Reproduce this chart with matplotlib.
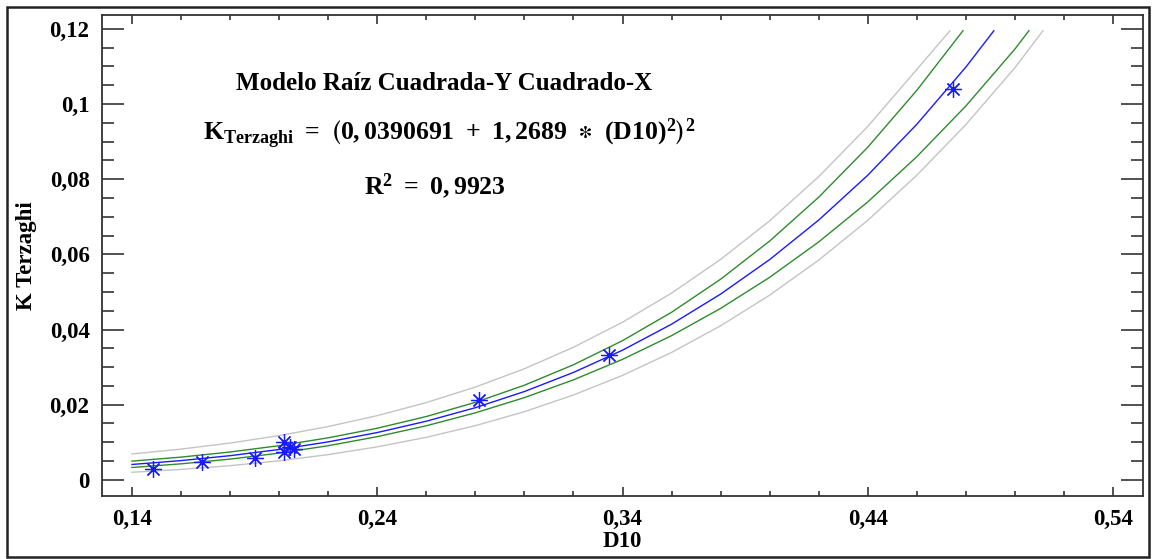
import numpy as np
import matplotlib
matplotlib.use('Agg')
import matplotlib.pyplot as plt
from matplotlib.ticker import FixedLocator, MultipleLocator
from matplotlib.patches import Rectangle

plt.rcParams['font.family'] = ['Liberation Serif', 'DejaVu Serif']
plt.rcParams['font.weight'] = 'bold'
plt.rcParams['mathtext.fontset'] = 'custom'
plt.rcParams['mathtext.rm'] = 'Liberation Serif:bold'
plt.rcParams['mathtext.it'] = 'Liberation Serif:bold'
plt.rcParams['mathtext.bf'] = 'Liberation Serif:bold'
plt.rcParams['mathtext.fallback'] = 'stix'

# observed points
d10_obs = [0.1487, 0.1684, 0.1901, 0.2021, 0.2021, 0.2044, 0.2060, 0.2815, 0.3345, 0.4747]
k_obs = [0.0029, 0.0047, 0.0059, 0.0102, 0.0075, 0.0087, 0.0082, 0.0213, 0.0331, 0.1040]

# fitted model curve
x_fit = [0.14, 0.16, 0.18, 0.20, 0.22, 0.24, 0.26, 0.28, 0.30, 0.32, 0.34, 0.36,
         0.38, 0.40, 0.42, 0.44, 0.46, 0.48, 0.4914]
y_fit = [0.00409, 0.00512, 0.00643, 0.00807, 0.01010, 0.01259, 0.01560, 0.01920,
         0.02350, 0.02858, 0.03450, 0.04142, 0.04943, 0.05862, 0.06913, 0.08107,
         0.09462, 0.10984, 0.1195]

# confidence limits (green)
x_conf_hi = [0.14, 0.16, 0.18, 0.20, 0.22, 0.24, 0.26, 0.28, 0.30, 0.32, 0.34, 0.36,
             0.38, 0.40, 0.42, 0.44, 0.46, 0.4788]
y_conf_hi = [0.00498, 0.00605, 0.00741, 0.00909, 0.01118, 0.01373, 0.01685, 0.02063,
             0.02518, 0.03062, 0.03703, 0.04459, 0.05339, 0.06355, 0.07521, 0.08852,
             0.10365, 0.1195]
x_conf_lo = [0.14, 0.16, 0.18, 0.20, 0.22, 0.24, 0.26, 0.28, 0.30, 0.32, 0.34, 0.36,
             0.38, 0.40, 0.42, 0.44, 0.46, 0.48, 0.50, 0.5057]
y_conf_lo = [0.00329, 0.00426, 0.00552, 0.00711, 0.00908, 0.01149, 0.01439, 0.01783,
             0.02188, 0.02661, 0.03206, 0.03837, 0.04562, 0.05389, 0.06331, 0.07395,
             0.08600, 0.09949, 0.11464, 0.1195]

# prediction limits (gray)
x_pred_hi = [0.14, 0.16, 0.18, 0.20, 0.22, 0.24, 0.26, 0.28, 0.30, 0.32, 0.34, 0.36,
             0.38, 0.40, 0.42, 0.44, 0.46, 0.4735]
y_pred_hi = [0.00688, 0.00818, 0.00979, 0.01177, 0.01418, 0.01708, 0.02056, 0.02468,
             0.02956, 0.03528, 0.04194, 0.04969, 0.05865, 0.06893, 0.08069, 0.09404,
             0.10922, 0.1195]
x_pred_lo = [0.14, 0.16, 0.18, 0.20, 0.22, 0.24, 0.26, 0.28, 0.30, 0.32, 0.34, 0.36,
             0.38, 0.40, 0.42, 0.44, 0.46, 0.48, 0.50, 0.5114]
y_pred_lo = [0.00202, 0.00277, 0.00377, 0.00507, 0.00671, 0.00878, 0.01132, 0.01441,
             0.01814, 0.02258, 0.02779, 0.03390, 0.04100, 0.04915, 0.05847, 0.06906,
             0.08106, 0.09453, 0.10967, 0.1195]

x_ticks = [0.14, 0.24, 0.34, 0.44, 0.54]
x_labels = ['0,14', '0,24', '0,34', '0,44', '0,54']
y_ticks = [0, 0.02, 0.04, 0.06, 0.08, 0.1, 0.12]
y_labels = ['0', '0,02', '0,04', '0,06', '0,08', '0,1', '0,12']

fig = plt.figure(figsize=(11.53, 5.59), dpi=100)
ax = fig.add_axes([0.0885, 0.1127, 0.9028, 0.8605])

ax.plot(x_pred_hi, y_pred_hi, color='#c4c4c4', lw=1.0)
ax.plot(x_pred_lo, y_pred_lo, color='#c4c4c4', lw=1.0)
ax.plot(x_conf_hi, y_conf_hi, color='#2e8b2e', lw=1.0)
ax.plot(x_conf_lo, y_conf_lo, color='#2e8b2e', lw=1.0)
ax.plot(x_fit, y_fit, color='#1a1aff', lw=1.0)
ax.plot(d10_obs, k_obs, ls='none', marker=(8, 2, 0), markersize=12,
        markeredgecolor='#1a1aff', markeredgewidth=0.9)

ax.set_xlim(0.1278, 0.5522)
ax.set_ylim(-0.0043, 0.1237)

ax.xaxis.set_major_locator(FixedLocator(x_ticks))
ax.set_xticklabels(x_labels)
ax.xaxis.set_minor_locator(MultipleLocator(0.02))
ax.yaxis.set_major_locator(FixedLocator(y_ticks))
ax.set_yticklabels(y_labels)
ax.yaxis.set_minor_locator(MultipleLocator(0.005))

ax.tick_params(axis='both', which='both', direction='in', top=True, right=True,
               labelsize=16.5, width=1.2, color='#333333')
ax.tick_params(axis='x', which='major', length=6.5, pad=9)
ax.tick_params(axis='x', which='minor', length=3.6)
ax.tick_params(axis='y', which='major', length=15.5, pad=9)
ax.tick_params(axis='y', which='minor', length=8.4)
for lab in ax.get_xticklabels() + ax.get_yticklabels():
    lab.set_fontweight('bold')
for s in ax.spines.values():
    s.set_linewidth(1.3)
    s.set_color('#333333')

ax.set_xlabel('D10', fontsize=16.5, fontweight='bold', labelpad=1)
ax.set_ylabel('K Terzaghi', fontsize=16.5, fontweight='bold', labelpad=9)

ax.text(0.3285, 0.857, 'Modelo Raíz Cuadrada-Y Cuadrado-X', transform=ax.transAxes,
        ha='center', va='center', fontsize=18)
ax.text(0.334, 0.753,
        r'$\mathrm{K_{Terzaghi}}\ =\ \left(0,0390691\ +\ 1,2689\ \ast\ (\mathrm{D10})^{2}\right)^{2}$',
        transform=ax.transAxes, ha='center', va='center', fontsize=18.5)
ax.text(0.32, 0.644, r'$\mathrm{R}^{2}\ =\ 0,9923$', transform=ax.transAxes,
        ha='center', va='center', fontsize=18.5)

fig.patches.append(Rectangle((0.0061, 0.0036), 0.9905, 0.9839, transform=fig.transFigure,
                             fill=False, edgecolor='#222222', linewidth=1.8))

plt.savefig('out.png', dpi=100)
